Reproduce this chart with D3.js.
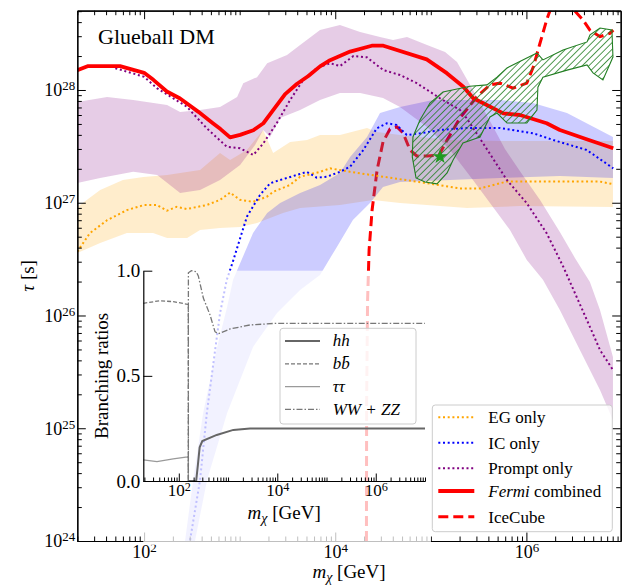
<!DOCTYPE html>
<html>
<head>
<meta charset="utf-8">
<script src="https://d3js.org/d3.v7.min.js"></script>
<style>
    body { margin: 0; background: #fff; }
    svg { display: block; }
    text { font-family: 'Liberation Serif', 'DejaVu Serif', serif; fill: #000; }
</style>
</head>
<body>
<svg width="625" height="587"></svg>
<script>

    // ---- data: [m_chi (GeV), tau (s)] ----
    var fermiCombined = [[20,1.5e28],[26,1.63e28],[56,1.63e28],[100,1.42e28],[125,1.23e28],[173,9.7e27],[238,8.4e27],[370,6.4e27],[520,5.1e27],[630,4.5e27],[794,3.8e27],[1010,4.0e27],[1390,4.4e27],[1770,5.07e27],[2250,6.65e27],[2990,9.2e27],[3960,1.13e28],[5230,1.33e28],[6930,1.62e28],[8830,1.84e28],[14300,2.19e28],[24100,2.47e28],[31900,2.47e28],[90600,1.87e28],[1.47e5,1.41e28],[2.19e5,1.07e28],[2.78e5,8.44e27],[3.54e5,7.62e27],[5.73e5,6.21e27],[8.57e5,6.0e27],[1.63e6,5.07e27],[2.24e6,4.42e27],[4.27e6,3.66e27],[8.11e6,3.04e27]];

    var promptOnly = [[50,1.56e28],[100,1.31e28],[136,1.04e28],[280,7.1e27],[453,4.57e27],[733,3.14e27],[1010,3.04e27],[1390,2.65e27],[1770,3.37e27],[2440,5.07e27],[3370,8.15e27],[4630,1.23e28],[6390,1.56e28],[8830,1.73e28],[11200,1.63e28],[15500,2.0e28],[21400,1.95e28],[31900,1.5e28],[47600,1.36e28],[71200,1.15e28],[1.25e5,8.44e27],[2.02e5,6.65e27],[2.38e5,5.6e27],[3.85e5,3.0e27],[6.22e5,1.6e27],[1.01e6,9.9e26],[1.63e6,5.36e26],[2.43e6,2.71e26],[3.47e6,1.37e26],[4.63e6,7.9e25],[5.89e6,4.94e25],[8.05e6,3.29e25]];

    var egOnly = [[20,3.68e26],[27,5.36e26],[41,7.0e26],[66,8.6e26],[100,9.55e26],[136,9.55e26],[173,8.5e26],[220,9.2e26],[280,8.8e26],[453,9.55e26],[623,1.06e27],[794,1.23e27],[1010,1.06e27],[1390,1.02e27],[1920,1.13e27],[2250,1.25e27],[3370,1.44e27],[4290,1.70e27],[6930,1.88e27],[8830,2.02e27],[14300,1.88e27],[31900,1.70e27],[71200,1.54e27],[1.06e5,1.46e27],[2.02e5,1.34e27],[3.27e5,1.34e27],[6.22e5,1.54e27],[1.91e6,1.54e27],[5.89e6,1.54e27],[8.11e6,1.46e27]];

    var icOnly = [[303,1.02e24],[385,3.48e24],[453,1.36e25],[531,3.79e25],[623,1.05e26],[733,2.07e26],[860,3.11e26],[1190,7.52e26],[1630,1.17e27],[2080,1.49e27],[2650,1.59e27],[4290,1.80e27],[5040,1.88e27],[6400,1.67e27],[8150,1.70e27],[11200,1.88e27],[14300,2.09e27],[19700,2.94e27],[27200,4.57e27],[34600,5.07e27],[44000,4.90e27],[56000,3.99e27],[77100,4.13e27],[1.25e5,4.42e27],[2.38e5,4.60e27],[5.30e5,4.60e27],[1.18e6,4.13e27],[1.91e6,3.60e27],[4.27e6,2.94e27],[8.11e6,2.02e27]];

    var iceCube = [[21200,1e24],[21300,1.78e25],[21800,1.37e26],[22600,3.81e26],[24300,8.63e26],[27400,1.95e27],[31600,3.46e27],[37400,4.51e27],[44300,4.70e27],[51200,4.16e27],[60600,2.94e27],[71200,2.60e27],[91300,2.60e27],[1.22e5,2.65e27],[1.48e5,3.60e27],[2.02e5,5.65e27],[3.02e5,8.67e27],[4.16e5,1.11e28],[5.30e5,1.15e28],[7.24e5,1.04e28],[1.01e6,1.15e28],[1.18e6,1.60e28],[1.39e6,2.61e28],[1.63e6,4.18e28],[2.30e6,9.5e28],[3.0e6,5.34e28],[3.91e6,4.18e28],[4.62e6,3.40e28],[5.89e6,2.97e28],[7.48e6,3.18e28],[8.11e6,3.40e28]];

    // bands: upper and lower edges
    var egBandUpper = [[20,9.16e26],[34.7,1.30e27],[60,1.59e27],[98,1.69e27],[174,1.76e27],[238,1.84e27],[385,1.95e27],[623,2.76e27],[794,2.39e27],[1190,2.94e27],[1760,4.42e27],[2240,2.76e27],[3370,3.46e27],[5070,3.60e27],[6930,3.99e27],[11200,3.99e27],[21500,4.60e27],[27400,4.24e27],[47600,3.99e27],[1.59e5,3.60e27],[5.30e5,3.53e27],[2.24e6,3.53e27],[8.05e6,3.53e27]];
    var egBandLower = [[20,3.58e26],[34.7,4.40e26],[66,5.40e26],[124,5.40e26],[174,4.87e26],[282,4.87e26],[385,5.73e26],[623,5.97e26],[1010,6.10e26],[1520,6.61e26],[2840,8.11e26],[4290,8.98e26],[11200,9.55e26],[24800,1.06e27],[47600,9.95e26],[2.39e5,8.98e26],[8.57e5,9.35e26],[8.05e6,9.16e26]];

    var icBandUpper = [[256,6.8e23],[268,1.0e24],[326,3.48e24],[414,1.36e25],[581,5.26e25],[738,1.19e26],[853,2.07e26],[1380,5.40e26],[1940,8.11e26],[2650,9.95e26],[4290,1.22e27],[6930,1.44e27],[11200,1.84e27],[14300,2.55e27],[21500,3.83e27],[29400,6.25e27],[47600,7.06e27],[1.05e5,8.15e27],[2.39e5,8.15e27],[5.30e5,8.15e27],[1.17e6,7.67e27],[2.66e6,6.25e27],[8.05e6,3.83e27]];
    var icBandLower = [[326,6.8e23],[341,1.0e24],[456,3.48e24],[738,1.36e25],[1380,5.26e25],[2460,1.05e26],[4290,1.68e26],[6930,2.29e26],[10400,4.06e26],[15300,7.03e26],[23100,9.95e26],[31600,1.38e27],[47600,1.53e27],[1.59e5,1.59e27],[5.30e5,1.66e27],[2.24e6,1.73e27],[8.05e6,1.66e27]];

    var promptBandUpper = [[20,7.83e27],[41,8.67e27],[77,8.15e27],[174,7.36e27],[238,6.38e27],[385,6.65e27],[623,7.06e27],[940,8.67e27],[1090,1.15e28],[1520,1.30e28],[1940,1.73e28],[3130,2.04e28],[4290,2.51e28],[6930,3.40e28],[11200,3.77e28],[18200,3.27e28],[29400,2.95e28],[40300,2.77e28],[56400,2.95e28],[91300,2.51e28],[1.41e5,2.17e28],[1.88e5,1.77e28],[2.76e5,1.0e28],[4.16e5,5.3e27],[5.97e5,3.0e27],[8.57e5,1.9e27],[1.39e6,1.06e27],[2.24e6,5.5e26],[3.22e6,3.24e26],[4.62e6,1.98e26],[5.89e6,1.12e26],[8.05e6,4.29e25]];
    var promptBandLower = [[20,1.50e27],[34.7,1.66e27],[77,1.88e27],[137,1.76e27],[238,1.22e27],[385,1.30e27],[623,1.59e27],[1010,2.16e27],[1450,3.25e27],[1760,4.42e27],[2080,3.83e27],[2650,5.65e27],[4290,6.65e27],[6930,8.15e27],[11200,9.4e27],[18200,9.4e27],[31600,8.49e27],[47600,7.06e27],[91300,4.70e27],[1.59e5,2.94e27],[2.76e5,1.59e27],[4.16e5,9.95e26],[6.73e5,5.73e26],[1.01e6,3.11e26],[1.49e6,2.07e26],[2.24e6,1.12e26],[3.63e6,4.94e25],[5.89e6,2.18e25],[8.05e6,1.18e25]];

    // glueball fit region outline and best-fit point
    var glueballRegion = [[1.16e5,1.47e27],[8.7e4,1.53e27],[7.0e4,1.66e27],[6.4e4,2.55e27],[6.5e4,3.83e27],[7.7e4,5.42e27],[9.8e4,7.67e27],[1.34e5,9.6e27],[1.88e5,1.02e28],[2.57e5,1.08e28],[3.87e5,1.11e28],[4.93e5,1.30e28],[6.27e5,1.57e28],[1.01e6,1.92e28],[1.29e6,2.13e28],[1.49e6,1.85e28],[2.42e6,2.26e28],[4.31e6,2.67e28],[4.63e6,3.08e28],[5.89e6,3.55e28],[7.85e6,3.40e28],[8.05e6,1.96e28],[6.32e6,1.23e28],[4.98e6,1.42e28],[4.31e6,1.67e28],[2.66e6,1.50e28],[1.49e6,1.30e28],[1.32e6,1.06e28],[1.29e6,6.65e27],[1.01e6,5.09e27],[6.27e5,5.09e27],[4.93e5,6.25e27],[4.16e5,5.77e27],[3.27e5,3.83e27],[2.17e5,3.39e27],[1.71e5,2.39e27],[1.48e5,1.84e27]];
    var bestFit = [1.25e5, 2.56e27];

    // inset: branching ratios [m_chi, BR]
    var brHH = [[156,0],[225,0],[245,0.08],[265,0.16],[300,0.19],[589,0.219],[1280,0.243],[2790,0.25],[1e7,0.25]];
    var brBB = [[19,0.845],[41,0.857],[77,0.853],[150,0.84],[156,0.84],[156.5,0]];
    var brTauTau = [[19,0.10],[36,0.092],[77,0.105],[150,0.115],[156,0.118],[156.5,0]];
    var brWWZZ = [[156,0],[156.5,0.99],[180,1.0],[225,0.995],[249,0.975],[315,0.87],[430,0.79],[543,0.71],[634,0.70],[1100,0.723],[2790,0.742],[9700,0.75],[1e7,0.75]];

    // tick labels
    var mainXTicks = [1e2, 1e4, 1e6];
    var mainYTicks = [1e24, 1e25, 1e26, 1e27, 1e28];
    var insetXTicks = [1e2, 1e4, 1e6];
    var insetYTicks = [0, 0.5, 1.0];

    var mainLegend = ["EG only", "IC only", "Prompt only", "Fermi combined", "IceCube"];
    var insetLegend = ["hh", "bb\u0304", "\u03c4\u03c4", "WW + ZZ"];

    // ---- layout ----
    var svg = d3.select("svg");
    var plot = {left: 77.3, right: 620.7, top: 10.7, bottom: 541};
    var inset = {left: 143.3, right: 425, top: 270.7, bottom: 481};

    var x = d3.scaleLog().domain([20, 9.7e6]).range([plot.left, plot.right]);
    var y = d3.scaleLog().domain([1e24, 5.05e28]).range([plot.bottom, plot.top]);
    var xi = d3.scaleLog().domain([19, 1e7]).range([inset.left, inset.right]);
    var yi = d3.scaleLinear().domain([0, 1]).range([inset.bottom, inset.top]);

    var line = d3.line().x(function (d) { return x(d[0]); }).y(function (d) { return y(d[1]); });
    var lineInset = d3.line().x(function (d) { return xi(d[0]); }).y(function (d) { return yi(d[1]); });
    function band(upper, lower) {
        return line(upper.concat(lower.slice().reverse())) + "Z";
    }

    var defs = svg.append("defs");
    defs.append("clipPath").attr("id", "plotClip")
        .append("rect")
        .attr("x", plot.left).attr("y", plot.top)
        .attr("width", plot.right - plot.left).attr("height", plot.bottom - plot.top);
    var hatch = defs.append("pattern").attr("id", "hatch")
        .attr("patternUnits", "userSpaceOnUse")
        .attr("width", 4.7).attr("height", 4.7)
        .attr("patternTransform", "rotate(45)");
    hatch.append("line")
        .attr("x1", 2.35).attr("y1", 0).attr("x2", 2.35).attr("y2", 4.7)
        .attr("stroke", "#237f23").attr("stroke-width", 0.8);

    var main = svg.append("g").attr("clip-path", "url(#plotClip)");

    // IceCube sits under the bands
    main.append("path").attr("d", line(iceCube))
        .attr("fill", "none").attr("stroke", "#ff0000")
        .attr("stroke-width", 3).attr("stroke-dasharray", "10,5");

    main.append("path").attr("d", band(egBandUpper, egBandLower))
        .attr("fill", "orange").attr("fill-opacity", 0.2);
    main.append("path").attr("d", band(icBandUpper, icBandLower))
        .attr("fill", "blue").attr("fill-opacity", 0.2);
    main.append("path").attr("d", band(promptBandUpper, promptBandLower))
        .attr("fill", "purple").attr("fill-opacity", 0.2);

    var dotted = [[egOnly, "orange"], [icOnly, "blue"], [promptOnly, "purple"]];
    dotted.forEach(function (s) {
        main.append("path").attr("d", line(s[0]))
            .attr("fill", "none").attr("stroke", s[1])
            .attr("stroke-width", 2).attr("stroke-dasharray", "2,2.7");
    });

    main.append("path").attr("d", line(fermiCombined))
        .attr("fill", "none").attr("stroke", "#ff0000")
        .attr("stroke-width", 3.8).attr("stroke-linejoin", "round");

    main.append("path").attr("d", line(glueballRegion) + "Z")
        .attr("fill", "url(#hatch)")
        .attr("stroke", "#237f23").attr("stroke-width", 1.1);

    main.append("path")
        .attr("d", d3.symbol().type(d3.symbolStar).size(70)())
        .attr("transform", "translate(" + x(bestFit[0]) + "," + y(bestFit[1]) + ")")
        .attr("fill", "#1f9a1f");

    // ---- main axes ----
    function minorTicks(lo, hi, skip) {
        var t = [];
        for (var e = Math.floor(Math.log10(lo)); e <= Math.ceil(Math.log10(hi)); e++) {
            for (var k = 1; k < 10; k++) {
                var v = k * Math.pow(10, e);
                if (v >= lo && v <= hi && skip.indexOf(v) < 0) t.push(v);
            }
        }
        return t;
    }
    function powLabels(g) {
        g.selectAll(".tick text").each(function (d) {
            var t = d3.select(this);
            t.text(null);
            t.append("tspan").text("10");
            t.append("tspan").attr("dy", "-0.45em").attr("font-size", "0.72em")
                .text(Math.round(Math.log10(d)));
        });
    }
    function styleAxis(g, size) {
        g.selectAll("g").attr("font-family", null).attr("font-size", null);
        g.selectAll(".tick text").attr("font-size", size);
        g.selectAll("line").attr("stroke", "#000");
        g.selectAll(".domain").attr("stroke", "#000").attr("stroke-width", 1.2);
    }

    var xMinor = minorTicks(20, 9.7e6, mainXTicks);
    var yMinor = minorTicks(1e24, 5.05e28, mainYTicks);

    var gx = svg.append("g").attr("transform", "translate(0," + plot.bottom + ")");
    gx.append("g").call(d3.axisBottom(x).tickValues(xMinor).tickSize(-4.5).tickSizeOuter(0).tickFormat(""));
    var gxMaj = gx.append("g").call(d3.axisBottom(x).tickValues(mainXTicks).tickSize(-8.5).tickSizeOuter(0).tickPadding(4).tickFormat(function () { return ""; }));
    powLabels(gxMaj);
    styleAxis(gx, 18);

    var gxt = svg.append("g").attr("transform", "translate(0," + plot.top + ")");
    gxt.append("g").call(d3.axisTop(x).tickValues(xMinor).tickSize(-4.5).tickSizeOuter(0).tickFormat(""));
    gxt.append("g").call(d3.axisTop(x).tickValues(mainXTicks).tickSize(-8.5).tickSizeOuter(0).tickFormat(""));
    styleAxis(gxt, 18);

    var gy = svg.append("g").attr("transform", "translate(" + plot.left + ",0)");
    gy.append("g").call(d3.axisLeft(y).tickValues(yMinor).tickSize(-4.5).tickSizeOuter(0).tickFormat(""));
    var gyMaj = gy.append("g").call(d3.axisLeft(y).tickValues(mainYTicks).tickSize(-8.5).tickSizeOuter(0).tickPadding(2).tickFormat(function () { return ""; }));
    powLabels(gyMaj);
    styleAxis(gy, 18);

    var gyr = svg.append("g").attr("transform", "translate(" + plot.right + ",0)");
    gyr.append("g").call(d3.axisRight(y).tickValues(yMinor).tickSize(-4.5).tickSizeOuter(0).tickFormat(""));
    gyr.append("g").call(d3.axisRight(y).tickValues(mainYTicks).tickSize(-8.5).tickSizeOuter(0).tickFormat(""));
    styleAxis(gyr, 18);

    // ---- inset (semi transparent white background) ----
    svg.append("rect")
        .attr("x", inset.left).attr("y", inset.top)
        .attr("width", 431 - inset.left).attr("height", 545 - inset.top)
        .attr("fill", "#fff").attr("fill-opacity", 0.75);

    var insetG = svg.append("g");
    insetG.append("path").attr("d", lineInset(brTauTau))
        .attr("fill", "none").attr("stroke", "#9a9a9a").attr("stroke-width", 1.3);
    insetG.append("path").attr("d", lineInset(brBB))
        .attr("fill", "none").attr("stroke", "#777").attr("stroke-width", 1.3)
        .attr("stroke-dasharray", "4,2");
    insetG.append("path").attr("d", lineInset(brWWZZ))
        .attr("fill", "none").attr("stroke", "#777").attr("stroke-width", 1.3)
        .attr("stroke-dasharray", "6,2,1.5,2");
    insetG.append("path").attr("d", lineInset(brHH))
        .attr("fill", "none").attr("stroke", "#666").attr("stroke-width", 2);

    var xiMinor = minorTicks(19, 1e7, insetXTicks);
    var gxi = svg.append("g").attr("transform", "translate(0," + inset.bottom + ")");
    gxi.append("g").call(d3.axisBottom(xi).tickValues(xiMinor).tickSize(-3.5).tickSizeOuter(0).tickFormat(""));
    var gxiMaj = gxi.append("g").call(d3.axisBottom(xi).tickValues(insetXTicks).tickSize(-7.5).tickSizeOuter(0).tickPadding(3).tickFormat(function () { return ""; }));
    powLabels(gxiMaj);
    styleAxis(gxi, 17);

    var gyi = svg.append("g").attr("transform", "translate(" + inset.left + ",0)");
    gyi.append("g").call(d3.axisLeft(yi).tickValues(insetYTicks).tickSize(-9).tickSizeOuter(0).tickPadding(3).tickFormat(d3.format(".1f")));
    styleAxis(gyi, 19);

    // inset legend
    var ilg = svg.append("g").attr("transform", "translate(280,328.3)");
    ilg.append("rect").attr("width", 136).attr("height", 95.7).attr("rx", 3)
        .attr("fill", "#fff").attr("fill-opacity", 0.8).attr("stroke", "#ccc");
    var ilgStyle = [["#666", 2, null], ["#777", 1.3, "4,2"], ["#9a9a9a", 1.3, null], ["#777", 1.3, "6,2,1.5,2"]];
    insetLegend.forEach(function (lab, i) {
        var ry = 12.7 + i * 22.8;
        ilg.append("line").attr("x1", 5).attr("x2", 40).attr("y1", ry).attr("y2", ry)
            .attr("stroke", ilgStyle[i][0]).attr("stroke-width", ilgStyle[i][1])
            .attr("stroke-dasharray", ilgStyle[i][2]);
        ilg.append("text").attr("x", 52.7).attr("y", ry + 5.5)
            .attr("font-size", 17).attr("font-style", "italic").text(lab);
    });

    // inset labels
    var ixl = svg.append("text").attr("x", (inset.left + inset.right) / 2).attr("y", 519)
        .attr("text-anchor", "middle").attr("font-size", 19);
    ixl.append("tspan").attr("font-style", "italic").text("m");
    ixl.append("tspan").attr("font-style", "italic").attr("font-size", 14).attr("dy", 4).text("\u03c7");
    ixl.append("tspan").attr("dy", -4).text(" [GeV]");

    svg.append("text")
        .attr("transform", "translate(108," + ((inset.top + inset.bottom) / 2) + ")rotate(-90)")
        .attr("text-anchor", "middle").attr("font-size", 19)
        .text("Branching ratios");

    // ---- main legend ----
    var lg = svg.append("g").attr("transform", "translate(432.3,405)");
    lg.append("rect").attr("width", 180).attr("height", 126.7).attr("rx", 3)
        .attr("fill", "#fff").attr("fill-opacity", 0.8).attr("stroke", "#ccc");
    var lgStyle = [["orange", 2, "2,2.7"], ["blue", 2, "2,2.7"], ["purple", 2, "2,2.7"], ["#ff0000", 3.8, null], ["#ff0000", 3, "10,5"]];
    var lgRows = [12.3, 37.7, 63.3, 86, 111.7];
    mainLegend.forEach(function (lab, i) {
        lg.append("line").attr("x1", 6).attr("x2", 42).attr("y1", lgRows[i]).attr("y2", lgRows[i])
            .attr("stroke", lgStyle[i][0]).attr("stroke-width", lgStyle[i][1])
            .attr("stroke-dasharray", lgStyle[i][2]);
        var t = lg.append("text").attr("x", 56).attr("y", lgRows[i] + 6).attr("font-size", 17);
        if (lab.indexOf("Fermi") === 0) {
            t.append("tspan").attr("font-style", "italic").text("Fermi");
            t.append("tspan").text(lab.slice(5));
        } else {
            t.text(lab);
        }
    });

    // ---- main labels ----
    svg.append("text").attr("x", 98).attr("y", 43.5).attr("font-size", 22).text("Glueball DM");

    var xl = svg.append("text").attr("x", (plot.left + plot.right) / 2).attr("y", 578)
        .attr("text-anchor", "middle").attr("font-size", 19);
    xl.append("tspan").attr("font-style", "italic").text("m");
    xl.append("tspan").attr("font-style", "italic").attr("font-size", 14).attr("dy", 4).text("\u03c7");
    xl.append("tspan").attr("dy", -4).text(" [GeV]");

    var yl = svg.append("text")
        .attr("transform", "translate(34," + ((plot.top + plot.bottom) / 2) + ")rotate(-90)")
        .attr("text-anchor", "middle").attr("font-size", 19);
    yl.append("tspan").attr("font-style", "italic").text("\u03c4");
    yl.append("tspan").text(" [s]");

</script>
</body>
</html>
